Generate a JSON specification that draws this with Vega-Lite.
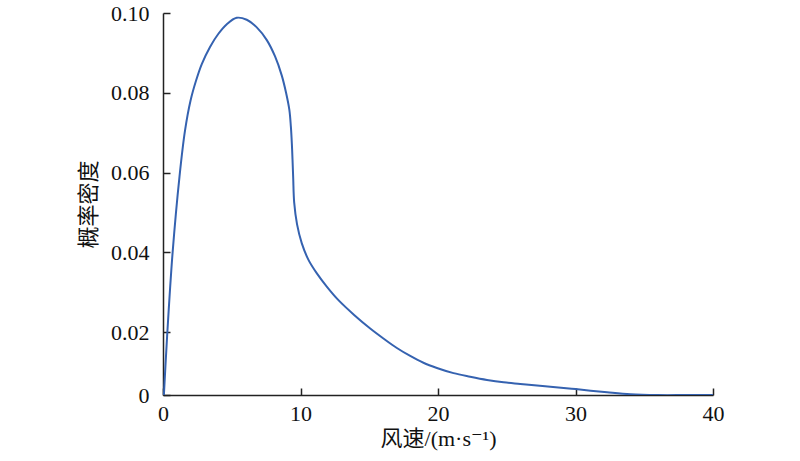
{
  "$schema": "https://vega.github.io/schema/vega-lite/v6.json",
  "width": 550,
  "height": 382,
  "autosize": {"type": "none"},
  "padding": {"left": 163, "top": 13, "right": 87, "bottom": 66},
  "background": "white",
  "config": {
    "view": {"stroke": null},
    "axis": {
      "grid": false,
      "domainColor": "#222222",
      "domainWidth": 1.5,
      "tickColor": "#222222",
      "tickWidth": 1.5,
      "tickSize": -7,
      "labelFlush": false,
      "labelFont": "Liberation Serif",
      "labelFontSize": 22,
      "labelColor": "#111111",
      "titleFont": "'Liberation Serif', 'DejaVu Serif', 'Noto Sans CJK SC'",
      "titleFontSize": 22,
      "titleFontWeight": "normal",
      "titleColor": "#111111"
    }
  },
  "data": {
    "values": [
      {"speed": 0, "density": 0},
      {"speed": 0.3, "density": 0.019},
      {"speed": 0.7, "density": 0.040},
      {"speed": 1.2, "density": 0.059},
      {"speed": 1.6, "density": 0.0705},
      {"speed": 2.0, "density": 0.0780},
      {"speed": 2.4, "density": 0.0830},
      {"speed": 2.82, "density": 0.0872},
      {"speed": 3.42, "density": 0.0915},
      {"speed": 4.03, "density": 0.0948},
      {"speed": 4.64, "density": 0.0972},
      {"speed": 5.36, "density": 0.0988},
      {"speed": 6.09, "density": 0.0983},
      {"speed": 6.82, "density": 0.0964},
      {"speed": 7.55, "density": 0.0932},
      {"speed": 8.15, "density": 0.0891},
      {"speed": 8.64, "density": 0.0843},
      {"speed": 8.95, "density": 0.0800},
      {"speed": 9.19, "density": 0.0757},
      {"speed": 9.3, "density": 0.0715},
      {"speed": 9.37, "density": 0.0673},
      {"speed": 9.42, "density": 0.0632},
      {"speed": 9.47, "density": 0.0585},
      {"speed": 9.54, "density": 0.0525},
      {"speed": 9.75, "density": 0.0470},
      {"speed": 10.09, "density": 0.0423},
      {"speed": 10.58, "density": 0.0381},
      {"speed": 11.19, "density": 0.0347},
      {"speed": 11.91, "density": 0.0314},
      {"speed": 12.76, "density": 0.0280},
      {"speed": 13.9, "density": 0.0243},
      {"speed": 15.07, "density": 0.0209},
      {"speed": 16.03, "density": 0.0184},
      {"speed": 17.01, "density": 0.0160},
      {"speed": 17.98, "density": 0.0140},
      {"speed": 18.94, "density": 0.0123},
      {"speed": 19.92, "density": 0.0110},
      {"speed": 21.13, "density": 0.0097},
      {"speed": 22.34, "density": 0.0088},
      {"speed": 23.56, "density": 0.0080},
      {"speed": 24.77, "density": 0.0074},
      {"speed": 25.98, "density": 0.0070},
      {"speed": 27.2, "density": 0.0066},
      {"speed": 28.17, "density": 0.0063},
      {"speed": 30.0, "density": 0.0057},
      {"speed": 32.3, "density": 0.0049},
      {"speed": 34.0, "density": 0.0044},
      {"speed": 36.0, "density": 0.0042},
      {"speed": 38.0, "density": 0.0042},
      {"speed": 40.0, "density": 0.0042}
    ]
  },
  "mark": {"type": "line", "color": "#3562b0", "strokeWidth": 2, "interpolate": "catmull-rom", "clip": true},
  "encoding": {
    "x": {
      "field": "speed",
      "type": "quantitative",
      "scale": {"domain": [0, 40], "nice": false, "zero": false},
      "axis": {"values": [0, 10, 20, 30, 40], "labelPadding": 15, "title": "风速/(m·s⁻¹)", "titlePadding": 4}
    },
    "y": {
      "field": "density",
      "type": "quantitative",
      "scale": {"domain": [0.00422, 0.1], "nice": false, "zero": false},
      "axis": {
        "values": [0.00422, 0.02, 0.04, 0.06, 0.08, 0.1],
        "labelExpr": "datum.value < 0.01 ? '0' : format(datum.value, '.2f')",
        "labelPadding": 21,
        "title": "概率密度",
        "titlePadding": 10
      }
    }
  }
}
